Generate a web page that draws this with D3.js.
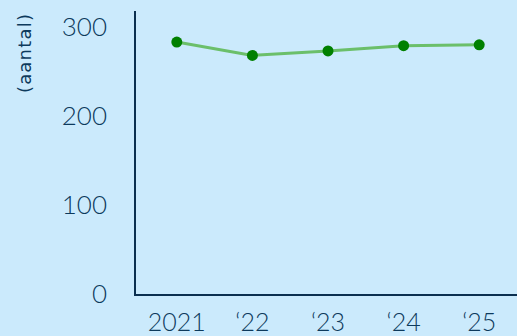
<!DOCTYPE html>
<html>
<head>
<meta charset="utf-8">
<script src="https://cdn.jsdelivr.net/npm/d3@7"></script>
<style>
  html, body { margin: 0; padding: 0; background: #cbeafc; }
  svg { display: block; }
  text { font-family: Lato, "Open Sans", sans-serif; fill: #0d3a5c; }
  text.axis-title { font-family: "DejaVu Sans", sans-serif; }
</style>
</head>
<body>
<svg id="chart" width="517" height="336"></svg>
<script>
// Yearly counts
const years = ["2021", "\u201822", "\u201823", "\u201824", "\u201825"];
const counts = [283, 268, 273, 279, 280];
const yTicks = [0, 100, 200, 300];
const yLabel = "(aantal)";

const width = 517, height = 336;
const svg = d3.select("#chart");

const x = d3.scalePoint().domain(years).range([139, 517]).padding(0.5);
const y = d3.scaleLinear().domain([0, 300]).range([293.5, 27]);

const axisColor = "#0b2f4f";

// y axis line
svg.append("line")
  .attr("x1", 135).attr("x2", 135)
  .attr("y1", 11).attr("y2", 296)
  .attr("stroke", axisColor).attr("stroke-width", 2);

// x axis line
svg.append("line")
  .attr("x1", 134).attr("x2", 517)
  .attr("y1", 295).attr("y2", 295)
  .attr("stroke", axisColor).attr("stroke-width", 2);

// y tick labels
svg.append("g").selectAll("text")
  .data(yTicks)
  .join("text")
  .attr("x", 107)
  .attr("y", d => y(d))
  .attr("dy", "0.36em")
  .attr("text-anchor", "end")
  .attr("font-size", 26)
  .attr("font-weight", 300)
  .text(d => d);

// x tick labels
svg.append("g").selectAll("text")
  .data(years)
  .join("text")
  .attr("x", d => x(d))
  .attr("y", 331)
  .attr("text-anchor", "middle")
  .attr("font-size", 25)
  .attr("font-weight", 300)
  .text(d => d);

// y axis title
svg.append("text")
  .attr("class", "axis-title")
  .attr("transform", "translate(31,53) rotate(-90)")
  .attr("text-anchor", "middle")
  .attr("font-size", 18)
  .attr("letter-spacing", 1.2)
  .text(yLabel);

const data = years.map((yr, i) => ({ yr, v: counts[i] }));

// line
svg.append("path")
  .datum(data)
  .attr("fill", "none")
  .attr("stroke", "#6bbf6a")
  .attr("stroke-width", 3)
  .attr("d", d3.line().x(d => x(d.yr)).y(d => y(d.v)));

// points
svg.append("g").selectAll("circle")
  .data(data)
  .join("circle")
  .attr("cx", d => x(d.yr))
  .attr("cy", d => y(d.v))
  .attr("r", 5.5)
  .attr("fill", "#008000");
</script>
</body>
</html>
